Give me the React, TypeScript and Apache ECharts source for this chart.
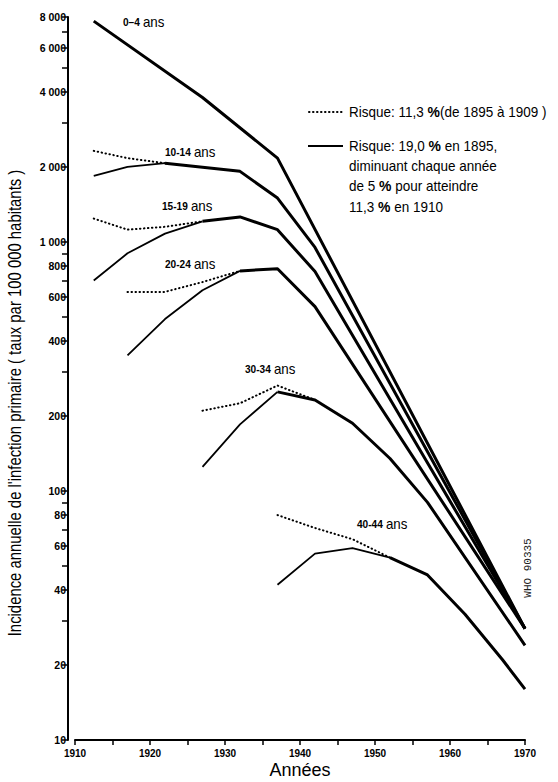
import React, { useEffect, useRef } from "react";
import * as echarts from "echarts";

// ---- axis ticks ----
const yLabelValues = [10, 20, 40, 60, 80, 100, 200, 400, 600, 800, 1000, 2000, 4000, 6000, 8000];
const yMinorValues = [30, 50, 70, 90, 300, 500, 700, 900, 3000, 5000, 7000];
const xLabelValues = [1910, 1920, 1930, 1940, 1950, 1960, 1970];
const xTickValues = [1910, 1915, 1920, 1925, 1930, 1935, 1940, 1945, 1950, 1955, 1960, 1965, 1970];

// ---- data (taux par 100 000 habitants) ----
const age04Years = [1912.5, 1927, 1937, 1970];
const age04Solid = [7700, 3800, 2170, 28];

const age1014Years = [1912.5, 1917, 1922, 1932, 1937, 1942, 1970];
const age1014Solid = [1840, 2000, 2070, 1920, 1500, 950, 28];
const age1014DotYears = [1912.5, 1917, 1922];
const age1014Dotted = [2320, 2170, 2070];

const age1519Years = [1912.5, 1917, 1922, 1927, 1932, 1937, 1942, 1970];
const age1519Solid = [700, 900, 1080, 1210, 1260, 1120, 760, 28];
const age1519DotYears = [1912.5, 1917, 1922, 1927];
const age1519Dotted = [1240, 1120, 1150, 1210];

const age2024Years = [1917, 1922, 1927, 1932, 1937, 1942, 1970];
const age2024Solid = [350, 490, 640, 765, 780, 550, 28];
const age2024DotYears = [1917, 1922, 1927, 1932];
const age2024Dotted = [630, 630, 690, 765];

const age3034Years = [1927, 1932, 1937, 1942, 1947, 1952, 1957, 1970];
const age3034Solid = [125, 185, 250, 232, 187, 135, 90, 24];
const age3034DotYears = [1927, 1932, 1937, 1942];
const age3034Dotted = [210, 225, 265, 232];

const age4044Years = [1937, 1942, 1947, 1952, 1957, 1962, 1967, 1970];
const age4044Solid = [42, 56, 59, 54, 46, 32, 21, 16];
const age4044DotYears = [1937, 1942, 1947, 1952];
const age4044Dotted = [80, 71, 64, 54];

const SANS = "'Liberation Sans',Arial,Helvetica,sans-serif";
const DOTS = [0.5, 3.5];

function pts(years: number[], values: number[]) {
  return years.map((y, i) => [y, Math.log10(values[i])]);
}

function line(name: string, data: number[][], width: number, dotted = false) {
  return {
    name,
    type: "line",
    data,
    symbol: "none",
    silent: true,
    z: dotted ? 2 : 3,
    lineStyle: {
      color: "#000",
      width,
      type: dotted ? DOTS : "solid",
      cap: dotted ? "round" : "butt",
      join: "round",
    },
  };
}

function fmtY(v: number) {
  const n = Math.round(Math.pow(10, v));
  if (n >= 1000) return `${Math.floor(n / 1000)} ${String(n % 1000).padStart(3, "0")}`;
  return String(n);
}

function ageLabel(txt: string, x: number, y: number) {
  return {
    type: "text",
    x,
    y,
    scaleX: 0.92,
    style: {
      text: `{b|${txt}} {r|ans}`,
      textVerticalAlign: "middle",
      rich: {
        b: { fontFamily: SANS, fontWeight: "bold", fontSize: 11, fill: "#000" },
        r: { fontFamily: SANS, fontSize: 14.5, fill: "#000" },
      },
    },
  };
}

function legendText(txt: string, x: number, y: number) {
  return {
    type: "text",
    x,
    y,
    scaleX: 0.9,
    style: {
      text: txt,
      textVerticalAlign: "middle",
      fontFamily: SANS,
      fontSize: 15,
      fill: "#000",
      rich: {
        p: { fontFamily: SANS, fontWeight: "bold", fontSize: 15.5, fill: "#000" },
      },
    },
  };
}

export default function App() {
  const ref = useRef<HTMLDivElement>(null);
  useEffect(() => {
    if (!ref.current) return;
    const chart = echarts.init(ref.current, undefined, { renderer: "svg" });
    const T = 3;
    const t = 1.8;
    const option = {
      animation: false,
      backgroundColor: "#fff",
      grid: { left: 75, right: 33, top: 17, bottom: 42 },
      xAxis: {
        type: "value",
        min: 1910,
        max: 1970,
        axisLine: { show: true, lineStyle: { color: "#000", width: 2 } },
        axisTick: { show: true, customValues: xTickValues, length: 5, lineStyle: { color: "#000", width: 1.5 } },
        axisLabel: {
          customValues: xLabelValues,
          formatter: (v: number) => String(v),
          fontFamily: SANS,
          fontWeight: "bold",
          fontSize: 10,
          color: "#000",
          margin: 8,
        },
        splitLine: { show: false },
      },
      yAxis: {
        type: "value",
        min: 1,
        max: Math.log10(8000),
        offset: 7,
        axisLine: { show: true, lineStyle: { color: "#000", width: 2 } },
        axisTick: {
          show: true,
          customValues: [...yLabelValues, ...yMinorValues].map((v) => Math.log10(v)),
          length: 6,
          lineStyle: { color: "#000", width: 1.5 },
        },
        axisLabel: {
          customValues: yLabelValues.map((v) => Math.log10(v)),
          formatter: fmtY,
          fontFamily: SANS,
          fontWeight: "bold",
          fontSize: 10.5,
          color: "#000",
          margin: 2,
        },
        splitLine: { show: false },
      },
      series: [
        line("10-14 ans (11,3 %)", pts(age1014DotYears, age1014Dotted), 2, true),
        line("15-19 ans (11,3 %)", pts(age1519DotYears, age1519Dotted), 2, true),
        line("20-24 ans (11,3 %)", pts(age2024DotYears, age2024Dotted), 2, true),
        line("30-34 ans (11,3 %)", pts(age3034DotYears, age3034Dotted), 2, true),
        line("40-44 ans (11,3 %)", pts(age4044DotYears, age4044Dotted), 2, true),
        line("0-4 ans", pts(age04Years, age04Solid), T),
        line("10-14 ans a", pts(age1014Years.slice(0, 3), age1014Solid.slice(0, 3)), t),
        line("10-14 ans", pts(age1014Years.slice(2), age1014Solid.slice(2)), T),
        line("15-19 ans a", pts(age1519Years.slice(0, 4), age1519Solid.slice(0, 4)), t),
        line("15-19 ans", pts(age1519Years.slice(3), age1519Solid.slice(3)), T),
        line("20-24 ans a", pts(age2024Years.slice(0, 4), age2024Solid.slice(0, 4)), t),
        line("20-24 ans", pts(age2024Years.slice(3), age2024Solid.slice(3)), T),
        line("30-34 ans a", pts(age3034Years.slice(0, 3), age3034Solid.slice(0, 3)), t),
        line("30-34 ans", pts(age3034Years.slice(2), age3034Solid.slice(2)), T),
        line("40-44 ans a", pts(age4044Years.slice(0, 4), age4044Solid.slice(0, 4)), t),
        line("40-44 ans", pts(age4044Years.slice(3), age4044Solid.slice(3)), T),
      ],
      graphic: [
        {
          type: "text",
          x: 15,
          y: 403,
          rotation: Math.PI / 2,
          scaleX: 0.85,
          style: {
            text: "Incidence annuelle de l'infection primaire ( taux par 100 000 habitants )",
            textAlign: "center",
            textVerticalAlign: "middle",
            fontFamily: SANS,
            fontSize: 17.5,
            fill: "#000",
          },
        },
        {
          type: "text",
          x: 300,
          y: 770,
          style: {
            text: "Années",
            textAlign: "center",
            textVerticalAlign: "middle",
            fontFamily: SANS,
            fontSize: 18,
            fill: "#000",
          },
        },
        ageLabel("0–4", 123, 22),
        ageLabel("10-14", 165, 152),
        ageLabel("15-19", 162, 206),
        ageLabel("20-24", 165, 264),
        ageLabel("30-34", 245, 369),
        ageLabel("40-44", 357, 524),
        {
          type: "line",
          shape: { x1: 309, y1: 112, x2: 345, y2: 112 },
          style: { stroke: "#000", lineWidth: 2, lineDash: DOTS, lineCap: "round" },
        },
        legendText("Risque: 11,3 {p|%}(de 1895 à 1909 )", 349, 112),
        {
          type: "line",
          shape: { x1: 308, y1: 146, x2: 343, y2: 146 },
          style: { stroke: "#000", lineWidth: 2 },
        },
        legendText("Risque: 19,0 {p|%} en 1895,", 349, 146),
        legendText("diminuant chaque année", 349, 166),
        legendText("de 5 {p|%} pour atteindre", 349, 186),
        legendText("11,3 {p|%} en 1910", 349, 207),
        {
          type: "text",
          x: 528,
          y: 568,
          rotation: Math.PI / 2,
          style: {
            text: "WHO 90335",
            textAlign: "center",
            textVerticalAlign: "middle",
            fontFamily: "'Liberation Mono','Courier New',monospace",
            fontSize: 11,
            fill: "#222",
          },
        },
      ],
    };
    chart.setOption(option as any);
    return () => chart.dispose();
  }, []);
  return (
    <div
      ref={ref}
      style={{ position: "fixed", left: 0, top: 0, width: 558, height: 782, background: "#fff" }}
    />
  );
}
